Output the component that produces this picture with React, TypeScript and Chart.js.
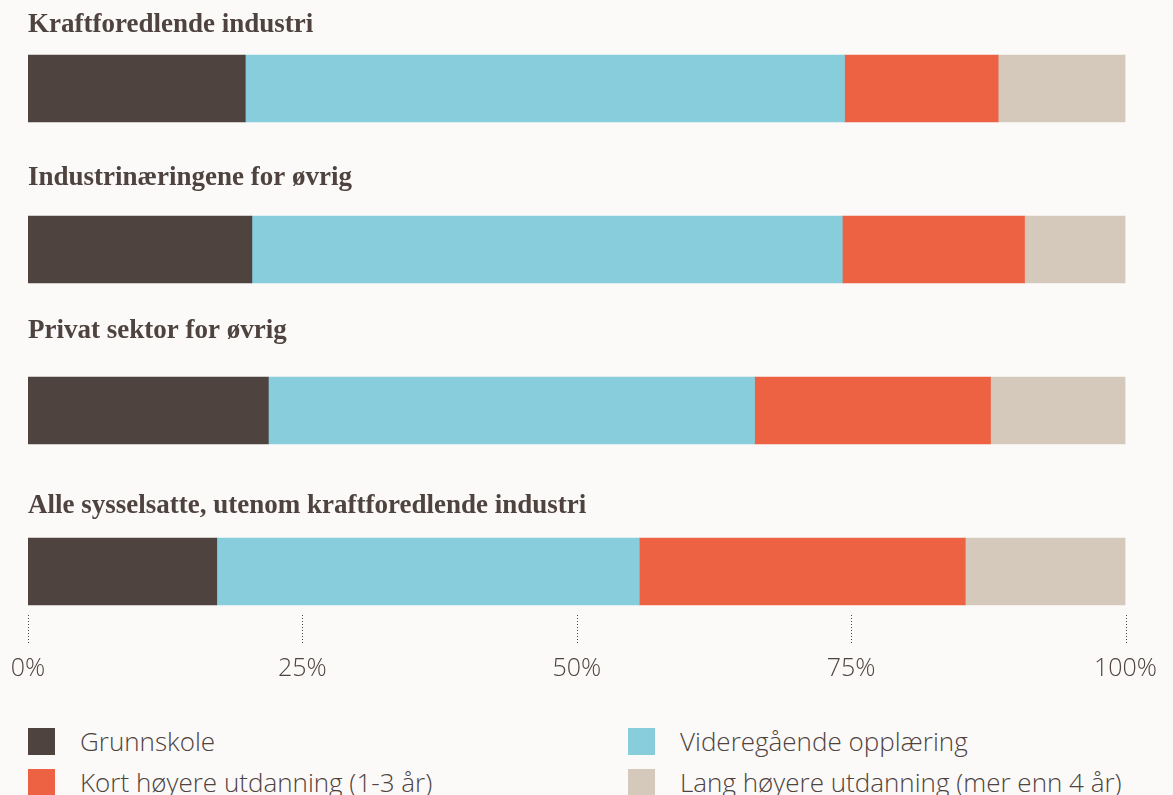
import React, { useEffect, useRef } from "react";
import { Chart, registerables } from "chart.js";

Chart.register(...registerables);

const CATEGORIES = [
  "Kraftforedlende industri",
  "Industrinæringene for øvrig",
  "Privat sektor for øvrig",
  "Alle sysselsatte, utenom kraftforedlende industri",
];
const SERIES_NAMES = [
  "Grunnskole",
  "Videregående opplæring",
  "Kort høyere utdanning (1-3 år)",
  "Lang høyere utdanning (mer enn 4 år)",
];
const GRUNNSKOLE = [19.8, 20.4, 21.9, 17.2];
const VIDEREGAENDE = [54.6, 53.8, 44.3, 38.5];
const KORT_HOYERE = [14.0, 16.6, 21.5, 29.7];
const LANG_HOYERE = [11.6, 9.2, 12.3, 14.6];
const X_TICKS = [0, 25, 50, 75, 100];

const COLORS = ["#4f4340", "#87cddb", "#ed6243", "#d5c9bc"];
const TEXT = "#4f4340";
const BG = "#fbfaf8";
const TITLE_OFFSETS = [23, 31, 39, 25];
const BAR_THICKNESS = 67;
const SANS = "'Open Sans', 'Noto Sans', sans-serif";
const SERIF = "'Liberation Serif', 'DejaVu Serif', serif";

const titlesPlugin = {
  id: "categoryTitles",
  afterDatasetsDraw(chart: any) {
    const { ctx, scales } = chart;
    const y = scales.y;
    const x = scales.x;
    ctx.save();
    ctx.fillStyle = TEXT;
    ctx.font = `bold 27px ${SERIF}`;
    ctx.textAlign = "left";
    ctx.textBaseline = "alphabetic";
    CATEGORIES.forEach((c, i) => {
      const top = y.getPixelForValue(i) - BAR_THICKNESS / 2;
      ctx.fillText(c, chart.chartArea.left, top - TITLE_OFFSETS[i]);
    });
    // dotted tick marks
    ctx.strokeStyle = "#4f4340";
    ctx.lineWidth = 1;
    ctx.setLineDash([1, 2]);
    const barsBottom = y.getPixelForValue(CATEGORIES.length - 1) + BAR_THICKNESS / 2;
    X_TICKS.forEach((t) => {
      const px = Math.round(x.getPixelForValue(t)) + 0.5;
      ctx.beginPath();
      ctx.moveTo(px, barsBottom + 10);
      ctx.lineTo(px, barsBottom + 40);
      ctx.stroke();
    });
    ctx.restore();
  },
};

export default function App() {
  const ref = useRef<HTMLCanvasElement>(null);

  useEffect(() => {
    document.body.style.margin = "0";
    document.body.style.background = BG;
    const series = [GRUNNSKOLE, VIDEREGAENDE, KORT_HOYERE, LANG_HOYERE];
    const chart = new Chart(ref.current!, {
      type: "bar",
      data: {
        labels: CATEGORIES,
        datasets: series.map((d, i) => ({
          label: SERIES_NAMES[i],
          data: d,
          backgroundColor: COLORS[i],
          borderWidth: 0,
          barThickness: BAR_THICKNESS,
        })),
      },
      options: {
        indexAxis: "y",
        animation: false,
        responsive: false,
        devicePixelRatio: 1,
        layout: { padding: { left: 28, right: 47.5, top: 8, bottom: 0 } },
        plugins: {
          legend: { display: false },
          tooltip: { enabled: false },
        },
        scales: {
          y: {
            stacked: true,
            display: false,
            offset: true,
          },
          x: {
            stacked: true,
            min: 0,
            max: 100,
            border: { display: false },
            grid: { display: false, drawTicks: false },
            afterFit: (scale: any) => {
              scale.height = 48;
            },
            afterBuildTicks: (scale: any) => {
              scale.ticks = X_TICKS.map((v) => ({ value: v }));
            },
            ticks: {
              padding: 2,
              color: TEXT,
              maxRotation: 0,
              autoSkip: false,
              font: { family: SANS, size: 25, weight: "300" as any },
              callback: (v: any) => `${v}%`,
            },
          },
        },
      },
      plugins: [titlesPlugin],
    });
    return () => chart.destroy();
  }, []);

  return (
    <div
      style={{
        position: "fixed",
        left: 0,
        top: 0,
        width: 1173,
        height: 795,
        background: BG,
        overflow: "hidden",
      }}
    >
      <canvas ref={ref} width={1173} height={700} style={{ display: "block" }} />
      {SERIES_NAMES.map((name, i) => {
        const col = i % 2;
        const row = Math.floor(i / 2);
        return (
          <div
            key={name}
            style={{
              position: "absolute",
              left: 28 + col * 600,
              top: 728 + row * 41,
              height: 27,
              display: "flex",
              alignItems: "center",
              whiteSpace: "nowrap",
            }}
          >
            <span
              style={{
                display: "inline-block",
                width: 27,
                height: 27,
                background: COLORS[i],
                marginRight: 25,
                flex: "none",
              }}
            />
            <span
              style={{
                fontFamily: SANS,
                fontWeight: 300,
                fontSize: 26,
                lineHeight: "27px",
                color: TEXT,
              }}
            >
              {name}
            </span>
          </div>
        );
      })}
    </div>
  );
}
